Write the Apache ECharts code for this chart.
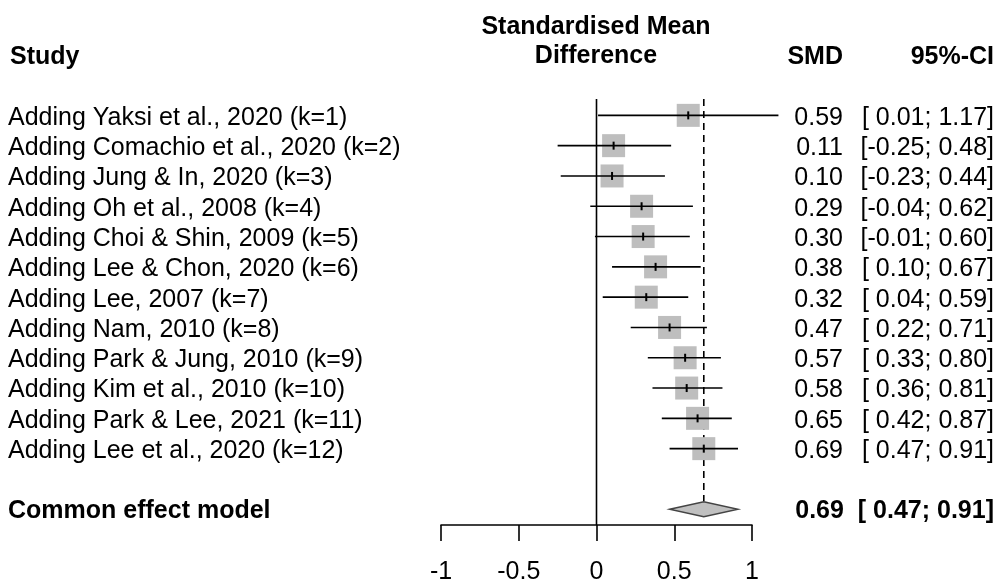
<!DOCTYPE html>
<html>
<head>
<meta charset="UTF-8">
<title>Cumulative meta-analysis</title>
<script src="https://cdn.jsdelivr.net/npm/echarts@6/dist/echarts.min.js"></script>
<style>
	html, body { margin: 0; padding: 0; background: #fff; }
	#main { width: 998px; height: 585px; }
</style>
</head>
<body>
<div id="main"></div>
<script type="text/javascript">
	// 数据
	var studies = [
		'Adding Yaksi et al., 2020 (k=1)',
		'Adding Comachio et al., 2020 (k=2)',
		'Adding Jung & In, 2020 (k=3)',
		'Adding Oh et al., 2008 (k=4)',
		'Adding Choi & Shin, 2009 (k=5)',
		'Adding Lee & Chon, 2020 (k=6)',
		'Adding Lee, 2007 (k=7)',
		'Adding Nam, 2010 (k=8)',
		'Adding Park & Jung, 2010 (k=9)',
		'Adding Kim et al., 2010 (k=10)',
		'Adding Park & Lee, 2021 (k=11)',
		'Adding Lee et al., 2020 (k=12)'
	];
	var smd = [0.59, 0.11, 0.10, 0.29, 0.30, 0.38, 0.32, 0.47, 0.57, 0.58, 0.65, 0.69];
	var lower = [0.01, -0.25, -0.23, -0.04, -0.01, 0.10, 0.04, 0.22, 0.33, 0.36, 0.42, 0.47];
	var upper = [1.17, 0.48, 0.44, 0.62, 0.60, 0.67, 0.59, 0.71, 0.80, 0.81, 0.87, 0.91];
	var pooledLabel = 'Common effect model';
	var pooled = [0.69, 0.47, 0.91];
	var xTicks = [-1, -0.5, 0, 0.5, 1];

	var FONT = '"Liberation Sans", Arial, sans-serif';
	var yMin = 0.46, yMax = 14.52;
	var pooledRow = 14;

	function fmt(v) { return (v < 0 ? '' : ' ') + v.toFixed(2); }
	function ciText(lo, hi) { return '[' + fmt(lo) + '; ' + hi.toFixed(2) + ']'; }

	function txt(x, y, s, align, bold) {
		return {
			type: 'text', x: x, y: y, z2: 10,
			style: {
				x: 0, y: 0, text: s, align: align, verticalAlign: 'middle',
				fontSize: 25, fontFamily: FONT, fontWeight: bold ? 'bold' : 'normal', fill: '#000'
			}
		};
	}

	var rows = smd.map(function (v, i) { return [v, i + 1, lower[i], upper[i]]; });

	var chart = echarts.init(document.getElementById('main'));
	var option = {
		animation: false,
		backgroundColor: '#fff',
		grid: { left: 441, right: 246, top: 99, bottom: 55.7 },
		xAxis: {
			type: 'value', min: xTicks[0], max: xTicks[xTicks.length - 1], interval: 0.5,
			axisLine: { show: true, onZero: false, lineStyle: { color: '#000', width: 1.6 } },
			axisTick: { show: true, length: 16, lineStyle: { color: '#000', width: 1.6 } },
			axisLabel: { margin: 35, fontSize: 25, fontFamily: FONT, color: '#000' },
			splitLine: { show: false }
		},
		yAxis: { type: 'value', inverse: true, min: yMin, max: yMax, show: false },
		graphic: [
			txt(10, 57, 'Study', 'left', true),
			txt(596, 27, 'Standardised Mean', 'center', true),
			txt(596, 56, 'Difference', 'center', true),
			txt(843, 57, 'SMD', 'right', true),
			txt(994, 57, '95%-CI', 'right', true)
		],
		series: [
			{
				// 参考线
				type: 'custom', data: [[0]], clip: false, z: 1,
				renderItem: function (params, api) {
					var a = api.coord([0, yMin]);
					var b = api.coord([0, yMax]);
					var d1 = api.coord([pooled[0], yMin]);
					var d2 = api.coord([pooled[0], pooledRow]);
					return {
						type: 'group', children: [
							{ type: 'line', shape: { x1: a[0], y1: a[1], x2: b[0], y2: b[1] }, style: { stroke: '#000', lineWidth: 1.6 } },
							{ type: 'line', shape: { x1: d1[0], y1: d1[1], x2: d2[0], y2: d2[1] - 8 }, style: { stroke: '#000', lineWidth: 1.6, lineDash: [7, 5] } }
						]
					};
				}
			},
			{
				// 各研究
				type: 'custom', data: rows, clip: false, z: 2,
				encode: { x: [0, 2, 3], y: 1 },
				renderItem: function (params, api) {
					var i = params.dataIndex;
					var y = api.value(1);
					var c = api.coord([api.value(0), y]);
					var lo = api.coord([api.value(2), y]);
					var hi = api.coord([api.value(3), y]);
					var size = 23;
					return {
						type: 'group', children: [
							{ type: 'rect', shape: { x: c[0] - size / 2, y: c[1] - size / 2, width: size, height: size }, style: { fill: '#bebebe' } },
							{ type: 'line', shape: { x1: lo[0], y1: lo[1], x2: hi[0], y2: hi[1] }, style: { stroke: '#000', lineWidth: 1.6 } },
							{ type: 'line', shape: { x1: c[0], y1: c[1] - 4, x2: c[0], y2: c[1] + 4 }, style: { stroke: '#000', lineWidth: 2 } },
							txt(8, c[1] + 2.5, studies[i], 'left', false),
							txt(843, c[1] + 2.5, api.value(0).toFixed(2), 'right', false),
							txt(994, c[1] + 2.5, ciText(api.value(2), api.value(3)), 'right', false)
						]
					};
				}
			},
			{
				// 合并效应
				type: 'custom', data: [[pooled[0], pooledRow, pooled[1], pooled[2]]], clip: false, z: 3,
				encode: { x: [0, 2, 3], y: 1 },
				renderItem: function (params, api) {
					var y = api.value(1);
					var c = api.coord([api.value(0), y]);
					var lo = api.coord([api.value(2), y]);
					var hi = api.coord([api.value(3), y]);
					var h = 7.5;
					return {
						type: 'group', children: [
							{
								type: 'polygon',
								shape: { points: [[lo[0], c[1]], [c[0], c[1] - h], [hi[0], c[1]], [c[0], c[1] + h]] },
								style: { fill: '#c0c0c0', stroke: '#444', lineWidth: 1.4 }
							},
							txt(8, c[1] + 2, pooledLabel, 'left', true),
							txt(994, c[1] + 2, api.value(0).toFixed(2) + '  ' + ciText(api.value(2), api.value(3)), 'right', true)
						]
					};
				}
			}
		]
	};
	chart.setOption(option);
</script>
</body>
</html>
